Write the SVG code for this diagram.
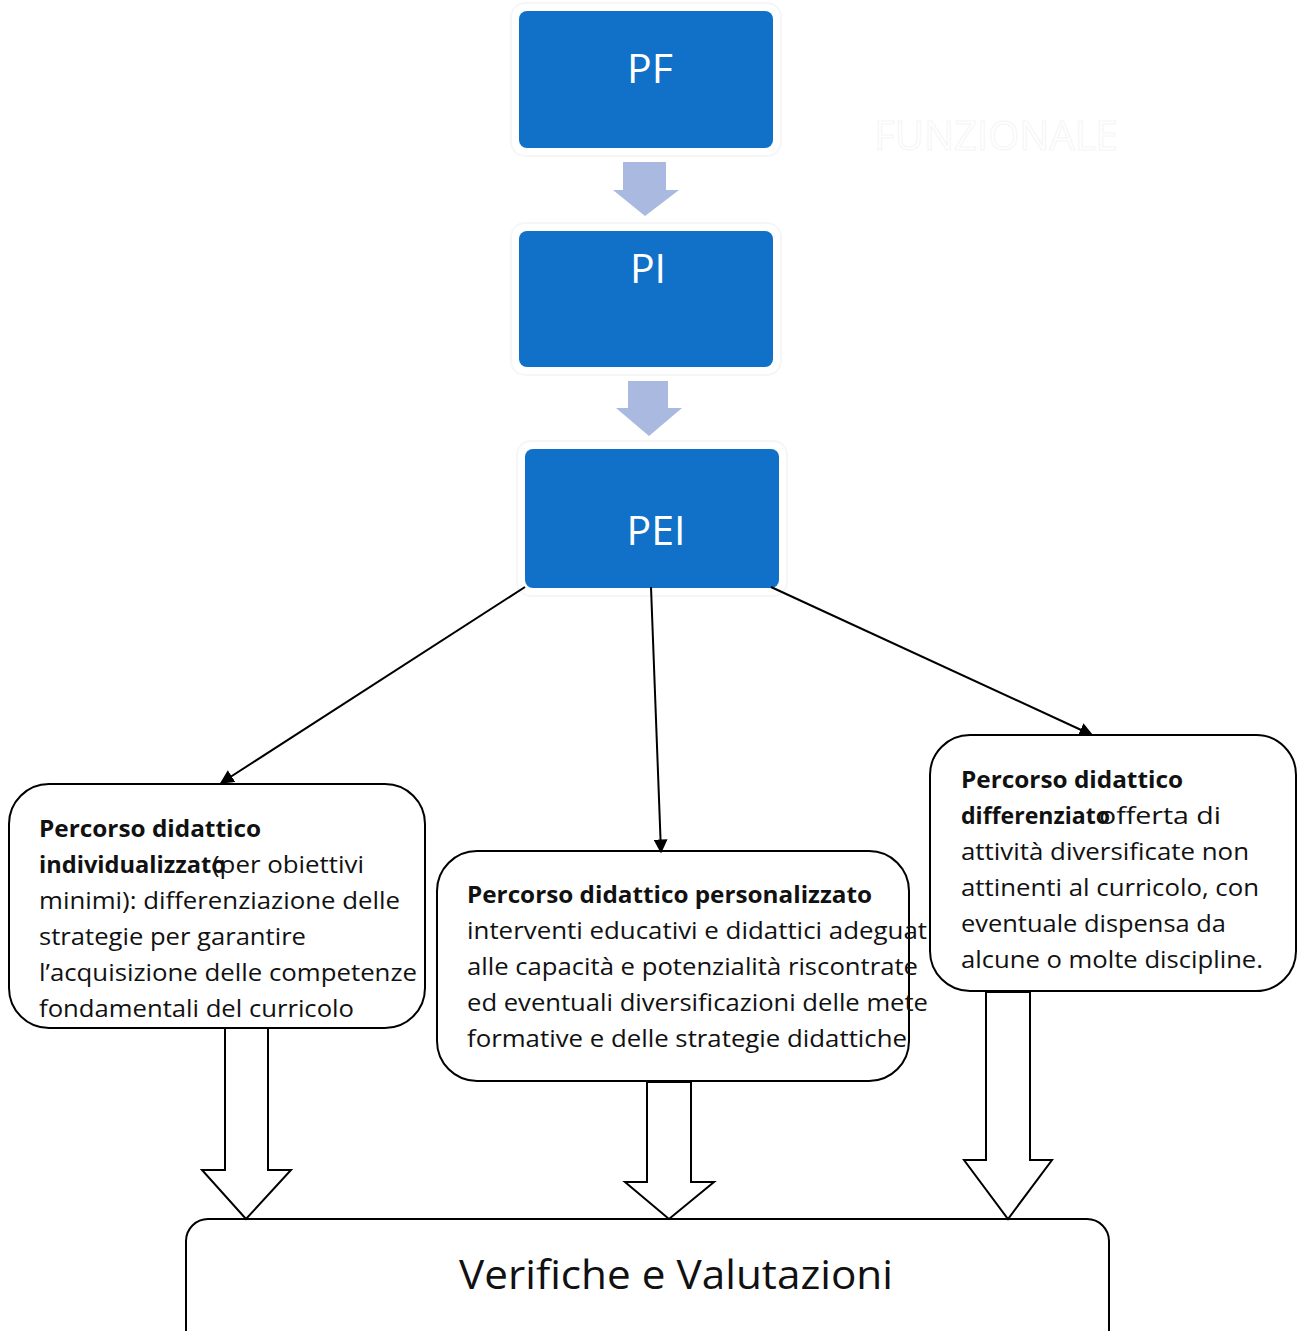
<svg xmlns="http://www.w3.org/2000/svg" width="1298" height="1331" viewBox="0 0 1298 1331">
<style>
.blue{fill:#1170C7;}
.glow{fill:none;stroke:#f6f6f6;stroke-width:2;}
.wt{font-family:"Open Sans","Noto Sans",sans-serif;fill:#ffffff;font-size:41px;text-anchor:middle;}
.box{fill:#ffffff;stroke:#000000;stroke-width:2;}
.t{font-family:"Open Sans","Noto Sans",sans-serif;font-size:24px;fill:#111111;}
.b{font-weight:bold;}
.harrow{fill:#ffffff;stroke:#000000;stroke-width:2;stroke-linejoin:miter;}
.larrow{fill:#AAB9E0;}
.conn{stroke:#000000;stroke-width:2;fill:none;}
</style>
<defs>
<marker id="ah" viewBox="0 0 10 10" refX="9" refY="5" markerWidth="7" markerHeight="7" orient="auto" markerUnits="strokeWidth">
<path d="M0,0 L10,5 L0,10 z" fill="#000000"/>
</marker>
</defs>
<rect width="1298" height="1331" fill="#ffffff"/>
<text x="996" y="150" font-family="Open Sans, sans-serif" font-size="40" fill="#ffffff" stroke="#f5f5f5" stroke-width="1" text-anchor="middle">FUNZIONALE</text>

<g id="node-pf">
<rect class="glow" x="511" y="3" width="270" height="153" rx="14"/>
<rect class="blue" x="519" y="11" width="254" height="137" rx="8"/>
<text class="wt" x="650" y="83">PF</text>
</g>
<g id="node-pi">
<rect class="glow" x="511" y="223" width="270" height="152" rx="14"/>
<rect class="blue" x="519" y="231" width="254" height="136" rx="8"/>
<text class="wt" x="648" y="283">PI</text>
</g>
<g id="node-pei">
<rect class="glow" x="517" y="441" width="270" height="155" rx="14"/>
<rect class="blue" x="525" y="449" width="254" height="139" rx="8"/>
<text class="wt" x="656" y="545">PEI</text>
</g>

<g id="node-individualizzato">
<rect class="box" x="9" y="784" width="416" height="244" rx="40"/>
<text class="t b" x="39" y="837" textLength="222" lengthAdjust="spacingAndGlyphs">Percorso didattico</text>
<text class="t b" x="39" y="873" textLength="187" lengthAdjust="spacingAndGlyphs">individualizzato</text>
<text class="t" x="212" y="873" textLength="152" lengthAdjust="spacingAndGlyphs">(per obiettivi</text>
<text class="t" x="39" y="909" textLength="361" lengthAdjust="spacingAndGlyphs">minimi): differenziazione delle</text>
<text class="t" x="39" y="945" textLength="267" lengthAdjust="spacingAndGlyphs">strategie per garantire</text>
<text class="t" x="39" y="981" textLength="378" lengthAdjust="spacingAndGlyphs">l’acquisizione delle competenze</text>
<text class="t" x="39" y="1017" textLength="315" lengthAdjust="spacingAndGlyphs">fondamentali del curricolo</text>
</g>

<g id="node-personalizzato">
<rect class="box" x="437" y="851" width="472" height="230" rx="40"/>
<text class="t b" x="467" y="903" textLength="405" lengthAdjust="spacingAndGlyphs">Percorso didattico personalizzato</text>
<text class="t" x="467" y="939" textLength="460" lengthAdjust="spacingAndGlyphs">interventi educativi e didattici adeguat</text>
<text class="t" x="467" y="975" textLength="451" lengthAdjust="spacingAndGlyphs">alle capacità e potenzialità riscontrate</text>
<text class="t" x="467" y="1011" textLength="461" lengthAdjust="spacingAndGlyphs">ed eventuali diversificazioni delle mete</text>
<text class="t" x="467" y="1047" textLength="440" lengthAdjust="spacingAndGlyphs">formative e delle strategie didattiche</text>
</g>

<g id="node-differenziato">
<rect class="box" x="930" y="735" width="366" height="256" rx="40"/>
<text class="t b" x="961" y="788" textLength="222" lengthAdjust="spacingAndGlyphs">Percorso didattico</text>
<text class="t b" x="961" y="824" textLength="149" lengthAdjust="spacingAndGlyphs">differenziato</text>
<text class="t" x="1099" y="824" textLength="122" lengthAdjust="spacingAndGlyphs">offerta di</text>
<text class="t" x="961" y="860" textLength="288" lengthAdjust="spacingAndGlyphs">attività diversificate non</text>
<text class="t" x="961" y="896" textLength="298" lengthAdjust="spacingAndGlyphs">attinenti al curricolo, con</text>
<text class="t" x="961" y="932" textLength="265" lengthAdjust="spacingAndGlyphs">eventuale dispensa da</text>
<text class="t" x="961" y="968" textLength="302" lengthAdjust="spacingAndGlyphs">alcune o molte discipline.</text>
</g>

<g id="node-verifiche">
<rect class="box" x="186" y="1219" width="923" height="140" rx="22"/>
<text x="459" y="1289" font-family="Open Sans, Noto Sans, sans-serif" font-size="41" fill="#111111" textLength="434" lengthAdjust="spacingAndGlyphs">Verifiche e Valutazioni</text>
</g>

<g id="connectors">
<path class="larrow" d="M623,162 L666,162 L666,190 L679,190 L645,216 L613,190 L623,190 Z"/>
<path class="larrow" d="M628,381 L668,381 L668,408 L682,408 L649,436 L616,408 L628,408 Z"/>
<line class="conn" x1="525" y1="587" x2="221" y2="783" marker-end="url(#ah)"/>
<line class="conn" x1="651" y1="587" x2="661" y2="852" marker-end="url(#ah)"/>
<line class="conn" x1="771" y1="587" x2="1092" y2="735" marker-end="url(#ah)"/>
<path class="harrow" d="M225,1028 L268,1028 L268,1170 L291,1170 L246,1219 L202,1170 L225,1170 Z"/>
<path class="harrow" d="M647,1082 L691,1082 L691,1182 L714,1182 L669,1219 L625,1182 L647,1182 Z"/>
<path class="harrow" d="M986,992 L1030,992 L1030,1160 L1052,1160 L1008,1219 L964,1160 L986,1160 Z"/>
</g>
</svg>
